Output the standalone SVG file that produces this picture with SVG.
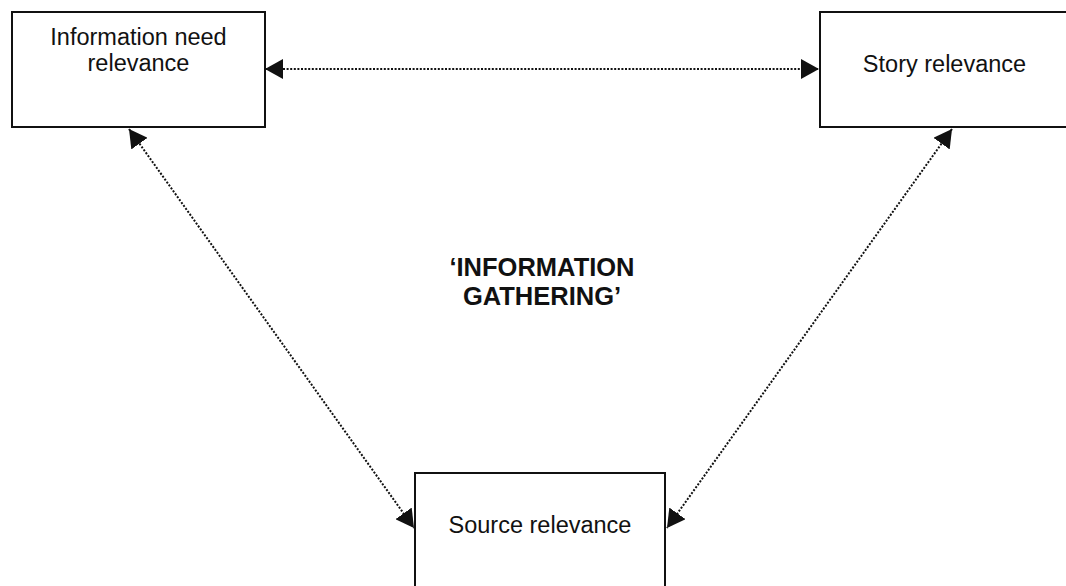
<svg xmlns="http://www.w3.org/2000/svg" width="1066" height="586" viewBox="0 0 1066 586">
  <style>
    .box { fill: #fff; stroke: #111; stroke-width: 2; }
    .label { font-family: "Liberation Sans", Arial, sans-serif; font-size: 23.5px; fill: #111; text-anchor: middle; }
    .title { font-family: "Liberation Sans", Arial, sans-serif; font-size: 25.5px; font-weight: bold; fill: #111; text-anchor: middle; }
    .link { fill: none; stroke: #111; stroke-width: 2; stroke-dasharray: 2 1.6; marker-start: url(#head); marker-end: url(#head); }
  </style>
  <defs>
    <marker id="head" markerUnits="userSpaceOnUse" markerWidth="18" markerHeight="20" refX="18" refY="10" orient="auto-start-reverse" viewBox="0 0 18 20">
      <path d="M0,0 L18,10 L0,20 Z" fill="#111"/>
    </marker>
  </defs>
  <rect width="1066" height="586" fill="#fff"/>

  <g id="connectors">
    <line class="link" x1="265" y1="69" x2="819" y2="69"/>
    <line class="link" x1="129" y1="129" x2="414" y2="528"/>
    <line class="link" x1="952" y1="129" x2="667" y2="528"/>
  </g>

  <g id="info-need">
    <rect class="box" x="12" y="12" width="253" height="115"/>
    <text class="label" x="138.5" y="45">Information need</text>
    <text class="label" x="138.5" y="71">relevance</text>
  </g>

  <g id="story">
    <rect class="box" x="820" y="12" width="260" height="115"/>
    <text class="label" x="944.5" y="72">Story relevance</text>
  </g>

  <g id="source">
    <rect class="box" x="415" y="473" width="250" height="130"/>
    <text class="label" x="540" y="533">Source relevance</text>
  </g>

  <g id="centre-label">
    <text class="title" x="542" y="276">‘INFORMATION</text>
    <text class="title" x="542" y="305">GATHERING’</text>
  </g>
</svg>
